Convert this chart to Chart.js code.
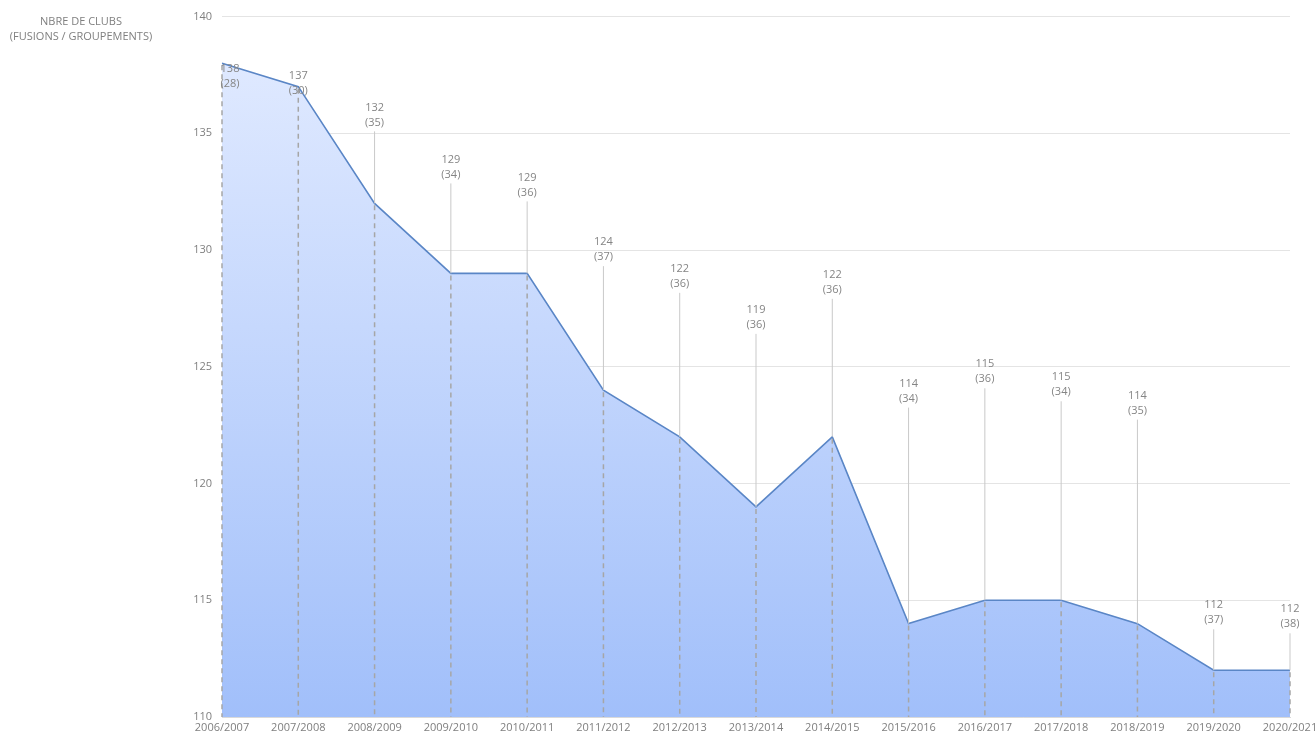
<!DOCTYPE html>
<html>
<head>
<meta charset="utf-8">
<title>Nombre de clubs</title>
<script src="https://cdn.jsdelivr.net/npm/chart.js@4"></script>
<style>
    html, body { margin: 0; padding: 0; background: #ffffff; }
    #wrap { width: 1316px; height: 738px; position: relative; }
</style>
</head>
<body>
<div id="wrap"><canvas id="clubsChart"></canvas></div>
<script>
// data
const seasons = ["2006/2007", "2007/2008", "2008/2009", "2009/2010", "2010/2011", "2011/2012", "2012/2013",
    "2013/2014", "2014/2015", "2015/2016", "2016/2017", "2017/2018", "2018/2019", "2019/2020", "2020/2021"];
const clubs = [138, 137, 132, 129, 129, 124, 122, 119, 122, 114, 115, 115, 114, 112, 112];
const mergers = [28, 30, 35, 34, 36, 37, 36, 36, 36, 34, 36, 34, 35, 37, 38];
const yMin = 110;
const yMax = 140;
const yStep = 5;
const axisTitle = ["NBRE DE CLUBS", "(FUSIONS / GROUPEMENTS)"];

// label placement (px above the point), like the manually dragged excel labels
const labelLift = [-6, 11, 96, 114, 96, 148, 168, 197, 162, 240, 236, 223, 228, 65, 61];

const greyText = "#7f7f7f";
const fontFamily = "'Open Sans', 'Liberation Sans', sans-serif";

// =====================
// drop lines + labels
// =====================
const excelBits = {
    id: "excelBits",
    afterDatasetsDraw(chart) {
        const ctx = chart.ctx;
        const meta = chart.getDatasetMeta(0);
        const bottom = chart.chartArea.bottom;

        ctx.save();
        // dashed drop lines
        ctx.strokeStyle = "#a6a6a6";
        ctx.lineWidth = 1.5;
        ctx.setLineDash([5, 4]);
        meta.data.forEach(pt => {
            ctx.beginPath();
            ctx.moveTo(pt.x, pt.y + 2);
            ctx.lineTo(pt.x, bottom);
            ctx.stroke();
        });
        ctx.setLineDash([]);

        // leader lines + labels
        ctx.font = "11px " + fontFamily;
        ctx.textAlign = "center";
        ctx.textBaseline = "middle";
        meta.data.forEach((pt, i) => {
            let lx = pt.x;
            if (i === 0) lx += 8;
            const ly = pt.y - labelLift[i];
            if (labelLift[i] > 30) {
                ctx.strokeStyle = "#c9c9c9";
                ctx.lineWidth = 1;
                ctx.beginPath();
                ctx.moveTo(lx, ly + 24);
                ctx.lineTo(pt.x, pt.y);
                ctx.stroke();
            }
            ctx.fillStyle = "#858585";
            ctx.fillText(String(clubs[i]), lx, ly);
            ctx.fillText("(" + mergers[i] + ")", lx, ly + 15);
        });

        // axis title, top left
        ctx.font = "11px " + fontFamily;
        ctx.fillStyle = greyText;
        ctx.fillText(axisTitle[0], 81, 22);
        ctx.fillText(axisTitle[1], 81, 37);
        ctx.restore();
    }
};

const ctx = document.getElementById("clubsChart").getContext("2d");

new Chart(ctx, {
    type: "line",
    data: {
        labels: seasons,
        datasets: [{
            data: clubs,
            fill: "start",
            borderColor: "#5a86c6",
            borderWidth: 1.6,
            pointRadius: 0,
            tension: 0,
            backgroundColor(context) {
                const area = context.chart.chartArea;
                if (!area) return "#c4d7fd";
                const yScale = context.chart.scales.y;
                const g = context.chart.ctx.createLinearGradient(0, yScale.getPixelForValue(138), 0, area.bottom);
                g.addColorStop(0, "#dfe9ff");
                g.addColorStop(1, "#a1bffa");
                return g;
            }
        }]
    },
    options: {
        responsive: true,
        maintainAspectRatio: false,
        animation: false,
        layout: { padding: { top: 16, right: 26, left: 0, bottom: 0 } },
        plugins: {
            legend: { display: false },
            tooltip: { enabled: false }
        },
        scales: {
            x: {
                offset: false,
                grid: { display: false, drawTicks: false },
                border: { display: true, color: "#d9d9d9", width: 1 },
                ticks: {
                    color: greyText,
                    font: { family: fontFamily, size: 11 },
                    autoSkip: false,
                    maxRotation: 0,
                    minRotation: 0,
                    padding: 4
                },
                afterFit(scale) {
                    scale.height = 21;
                    // let the last label run off the edge like the original
                    scale.paddingLeft = 0;
                    scale.paddingRight = 0;
                }
            },
            y: {
                min: yMin,
                max: yMax,
                ticks: {
                    stepSize: yStep,
                    color: greyText,
                    font: { family: fontFamily, size: 11 },
                    padding: 10
                },
                grid: { color: "#e4e4e4", lineWidth: 1, drawTicks: false },
                border: { display: false },
                afterFit(scale) { scale.width = 222; }
            }
        }
    },
    plugins: [excelBits]
});
</script>
</body>
</html>
